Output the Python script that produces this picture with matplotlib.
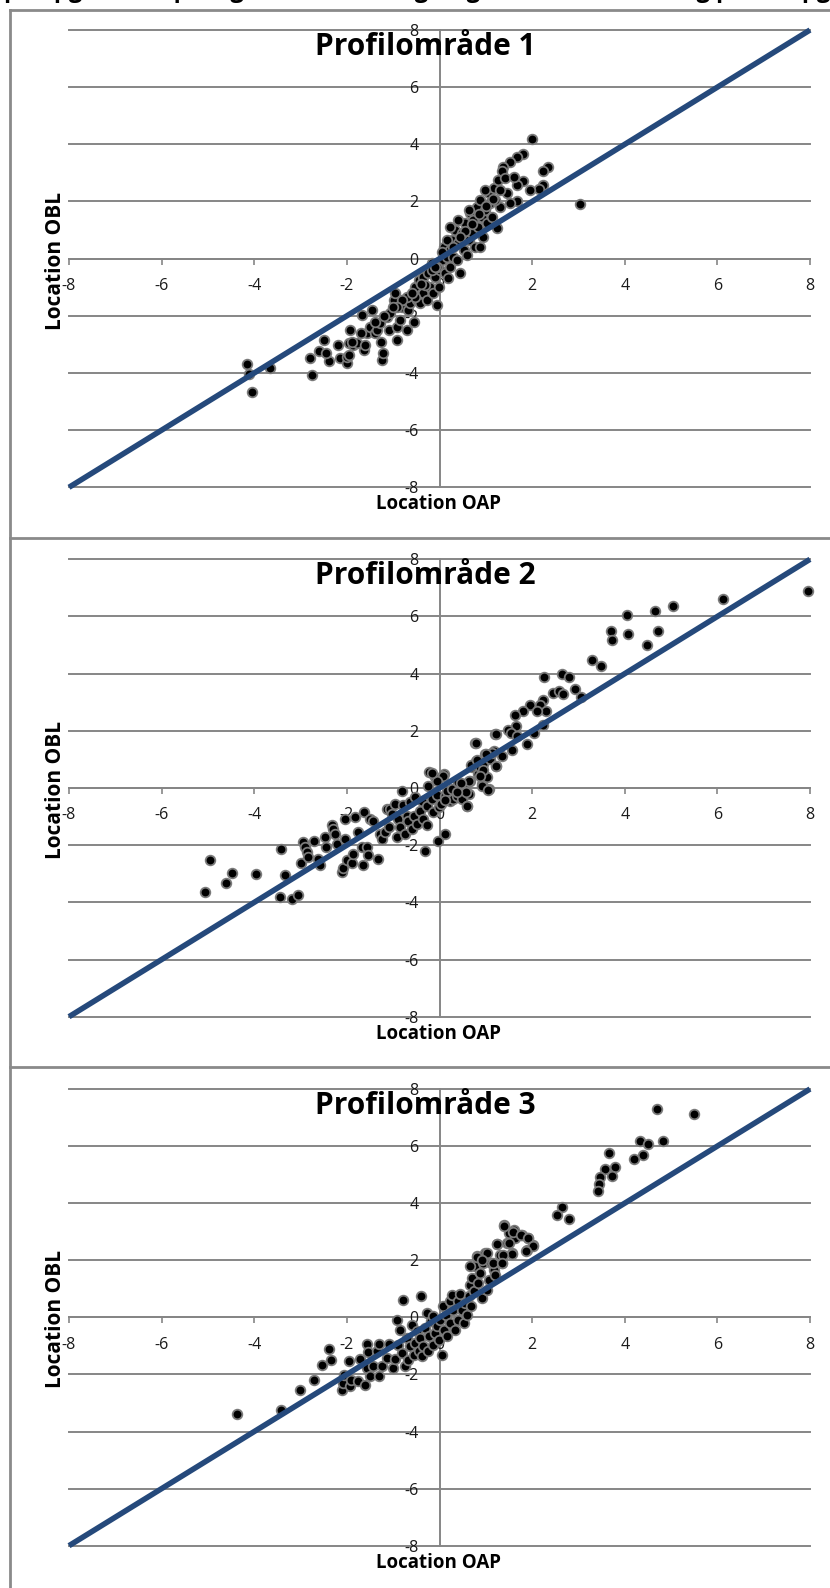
import matplotlib
matplotlib.use("Agg")
import matplotlib.pyplot as plt
from matplotlib.lines import Line2D
import numpy as np

plt.rcParams['font.family'] = ['Open Sans', 'DejaVu Sans']

# ---------------- data ----------------
titles = ["Profilområde 1", "Profilområde 2", "Profilområde 3"]
x_label = "Location OAP"
y_label = "Location OBL"
header_text = "på opgavesæt på, og ved sammenligning (Location (OAP)) og på delopgaveniveau (Location (OBL)) i de tre profilområder"
ticks = [-8, -6, -4, -2, 0, 2, 4, 6, 8]
identity_line = [-8, 8]

panel1_points = [
    (1.99, 4.19), (2.35, 3.19), (2.24, 3.07), (1.81, 3.65), (1.67, 3.57), (1.53, 3.37), (1.38, 3.22),
    (1.35, 3.05), (3.04, 1.91), (2.24, 2.58), (2.14, 2.43), (1.96, 2.40), (1.81, 2.70), (1.67, 2.58),
    (1.67, 2.00), (1.53, 1.94), (1.24, 1.06), (1.31, 1.82),
    (-4.15, -3.70), (-4.12, -4.05), (-4.05, -4.68), (-3.65, -3.84),
    (-2.76, -4.07), (-2.79, -3.47), (-2.61, -3.22), (-2.50, -2.85), (-2.39, -3.58), (-2.45, -3.30),
    (-2.20, -3.02), (-2.14, -3.49), (-2.00, -3.66), (-2.00, -3.43), (-1.96, -3.37), (-1.93, -2.50),
    (-1.96, -2.96), (-1.86, -3.02), (-1.78, -2.96), (-1.68, -1.97), (-1.64, -3.20), (-1.60, -3.02),
    (-1.57, -2.61), (-1.50, -2.38), (-1.46, -1.80), (-1.39, -2.61), (-1.35, -2.50), (-1.28, -2.26),
    (-1.24, -3.55), (-1.21, -3.31), (-1.27, -2.91), (-1.14, -2.03), (-1.10, -2.50), (-1.06, -1.91),
    (-0.99, -1.45), (-0.96, -1.21), (-0.92, -2.85), (-0.92, -2.38), (-0.85, -2.15), (-0.81, -1.68),
    (-0.78, -1.45), (-0.71, -2.50), (-0.67, -1.80), (-0.63, -1.56), (-0.56, -2.21), (-0.53, -0.98),
    (-0.49, -1.45), (-0.45, -0.75), (-0.42, -1.56), (-0.35, -1.21), (-0.35, -0.63), (-0.27, -1.45),
    (-0.24, -0.51), (-0.20, -0.98), (-0.17, -0.16), (-0.13, -1.21), (-0.09, -0.63), (-0.06, -1.62),
    (-0.02, -0.98), (0.01, -0.40), (0.05, -0.05), (0.09, 0.42), (0.12, -0.51), (0.16, 0.07),
    (0.19, -0.69), (0.23, -0.28), (0.23, 0.30), (0.27, 0.65), (0.30, 0.07), (0.34, 1.00),
    (0.37, -0.05), (0.41, 0.54), (0.45, -0.51), (0.48, 0.89), (0.52, 0.30), (0.55, 1.24),
    (0.59, 0.13), (0.63, 0.65), (0.66, 1.59), (0.70, 0.89), (0.73, 1.35), (0.77, 0.42),
    (0.81, 1.82), (0.84, 1.12), (0.88, 0.42), (0.88, 2.05), (0.91, 1.47), (0.95, 0.77),
    (0.99, 1.70), (1.02, 1.24), (1.06, 2.29), (1.09, 1.94), (1.13, 1.47), (1.17, 2.46),
    (1.20, 2.05), (1.27, 2.75), (1.42, 2.81), (1.45, 2.29), (1.60, 2.87), (0.99, 2.40),
    (0.63, 1.70), (0.41, 1.35), (0.23, 1.12), (0.16, 0.65), (0.05, 0.25), (-0.06, -0.28),
    (-0.17, -0.40), (-0.31, -0.92), (-0.53, -1.33), (-0.71, -1.33), (-0.81, -1.45), (-0.92, -1.68),
    (0.55, 0.95), (0.70, 1.20), (0.85, 1.55), (1.00, 1.85), (1.15, 2.10), (1.30, 2.40),
    (0.45, 0.75), (0.30, 0.40), (-0.10, -0.30), (-0.40, -0.90), (-0.60, -1.20), (-1.00, -1.70),
    (-1.20, -2.00), (-1.40, -2.20), (-1.70, -2.60), (-1.90, -2.90),
]

panel2_points = [
    (-5.07, -3.64), (-4.96, -2.53), (-4.60, -3.31), (-4.49, -2.97), (-3.96, -3.00), (-3.43, -2.15),
    (-3.34, -3.06), (-3.45, -3.81), (-3.19, -3.87), (-3.05, -3.73), (-2.98, -2.63), (-2.94, -1.90),
    (-2.90, -2.07), (-2.87, -2.24), (-2.83, -2.42), (-2.72, -1.87), (-2.62, -2.48), (-2.58, -2.71),
    (-2.47, -1.72), (-2.44, -2.07), (-2.33, -1.29), (-2.29, -1.43), (-2.26, -1.60), (-2.22, -1.95),
    (-2.11, -2.94), (-2.08, -2.80), (-2.00, -2.53), (-2.04, -1.08), (-2.04, -1.78), (-1.90, -2.62),
    (-1.86, -2.30), (-1.82, -1.02), (-1.75, -1.55), (-1.68, -2.07), (-1.66, -2.71), (-1.64, -0.83),
    (-1.57, -2.07), (-1.54, -2.36), (-1.50, -1.08), (-1.43, -1.14), (-1.32, -2.50), (-1.28, -1.60),
    (-1.25, -1.78), (-1.17, -1.55), (-1.14, -0.73), (-1.07, -0.73), (-1.10, -1.37), (-1.03, -0.91),
    (-0.96, -0.56), (-0.92, -1.72), (-0.89, -1.08), (-0.85, -1.37), (-0.81, -0.09), (-0.78, -0.59),
    (-0.74, -1.60), (-0.71, -0.97), (-0.67, -1.14), (-0.63, -0.50), (-0.60, -1.43), (-0.56, -0.97),
    (-0.53, -0.33), (-0.49, -1.26), (-0.42, -0.79), (-0.38, -0.44), (-0.35, -1.08), (-0.31, -2.22),
    (-0.27, -0.62), (-0.26, -1.31), (-0.24, 0.08), (-0.22, 0.55), (-0.17, -0.38), (-0.13, -0.85),
    (-0.09, 0.37), (-0.06, -0.24), (-0.04, -1.84), (-0.02, -0.67), (0.03, -0.56), (0.09, 0.49),
    (0.11, -1.60), (0.12, -0.27), (0.16, -0.09), (0.22, -0.44), (0.27, -0.03), (0.30, -0.38),
    (0.37, -0.27), (0.41, 0.20), (0.48, -0.38), (0.52, 0.08), (0.59, -0.62), (0.63, -0.21),
    (0.66, 0.26), (0.70, 0.72), (0.77, 1.59), (0.79, 0.95), (0.84, 0.49), (0.88, 0.72),
    (0.92, 0.14), (0.95, 0.84), (0.99, 1.19), (1.02, 0.37), (1.06, -0.03), (1.10, 1.01),
    (1.17, 1.30), (1.20, 1.88), (1.23, 0.78),
    (7.95, 6.88), (6.12, 6.62), (5.05, 6.35), (4.65, 6.18), (4.71, 5.48), (4.47, 5.01),
    (4.04, 6.04), (4.06, 5.38), (3.70, 5.48), (3.72, 5.19), (3.30, 4.46), (3.48, 4.27),
    (2.26, 3.87), (2.65, 3.99), (2.80, 3.87), (2.93, 3.48), (3.05, 3.18), (2.46, 3.32),
    (2.57, 3.38), (2.67, 3.30), (2.24, 3.09), (2.17, 2.91), (2.30, 2.68), (1.95, 2.91),
    (2.11, 2.68), (1.81, 2.68), (1.63, 2.56), (1.65, 2.16), (1.47, 2.04), (1.54, 1.92),
    (1.21, 1.89), (2.03, 1.92), (2.23, 2.21), (1.88, 1.55), (1.67, 1.81), (0.79, 1.57),
    (1.56, 1.32), (1.34, 1.13), (1.13, 1.22), (1.00, 1.19), (1.22, 0.78), (0.69, 0.82),
    (0.80, 0.97), (0.93, 0.64), (0.91, 0.08), (1.05, -0.08), (0.87, 0.41), (0.64, 0.23),
    (0.46, 0.17), (0.08, 0.43), (-0.06, 0.26), (-0.17, 0.52), (0.60, -0.62), (0.57, -0.15),
    (0.37, -0.15), (0.12, -0.41),
]

panel3_points = [
    (-4.37, -3.38), (-3.43, -3.26), (-3.01, -2.56), (-2.71, -2.18), (-2.54, -1.66), (-2.39, -1.11),
    (-2.34, -1.48), (-2.11, -2.56), (-2.09, -2.30), (-2.06, -2.01), (-1.93, -2.42), (-1.95, -1.54),
    (-1.91, -2.18), (-1.75, -2.24), (-1.72, -1.46), (-1.61, -2.36), (-1.57, -0.92), (-1.57, -1.78),
    (-1.54, -1.23), (-1.50, -2.04), (-1.43, -1.72), (-1.35, -1.19), (-1.30, -2.04), (-1.30, -0.92),
    (-1.25, -1.72), (-1.14, -1.43), (-1.10, -0.92), (-1.01, -1.78), (-0.96, -1.46), (-0.92, -0.08),
    (-0.89, -0.96), (-0.85, -0.43), (-0.81, -1.25), (-0.79, 0.62), (-0.74, -1.72), (-0.71, -0.72),
    (-0.67, -1.48), (-0.63, -1.02), (-0.60, -0.26), (-0.56, -1.31), (-0.53, -0.90), (-0.49, -0.49),
    (-0.45, -1.19), (-0.42, -0.72), (-0.40, 0.76), (-0.38, -1.37), (-0.35, -1.02), (-0.31, -0.37),
    (-0.27, 0.15), (-0.24, -1.19), (-0.22, -0.67), (-0.19, -0.14), (-0.14, -0.96), (-0.13, 0.04),
    (-0.09, -0.55), (-0.06, -0.32), (-0.02, -0.78), (0.01, -0.08), (0.05, -1.31), (0.07, 0.39),
    (0.10, -0.43), (0.14, 0.09), (0.17, -0.67), (0.22, 0.56), (0.23, -0.20), (0.27, 0.79),
    (0.30, 0.27), (0.34, -0.43), (0.39, 0.56), (0.41, -0.08), (0.45, 0.83), (0.48, 0.27),
    (0.52, -0.20), (0.55, 0.50), (0.59, 0.09), (0.63, 0.74), (0.65, 1.14), (0.68, 0.39),
    (0.70, 1.38), (0.74, 0.91), (0.77, 1.79), (0.81, 2.14), (0.84, 1.20), (0.88, 1.55),
    (0.92, 0.68), (0.95, 1.90), (0.99, 2.25), (1.02, 0.97), (1.06, 1.32), (1.11, 1.90),
    (1.17, 1.67), (1.20, 1.50), (1.25, 2.58), (1.30, 2.20), (1.35, 1.90), (1.40, 3.25),
    (1.46, 2.61), (1.49, 2.96), (1.56, 2.25), (1.60, 3.07), (1.64, 2.78), (1.78, 2.90),
    (1.92, 2.78), (1.89, 2.37), (2.02, 2.55),
    (4.70, 7.30), (5.50, 7.11), (4.33, 6.19), (4.51, 6.07), (4.82, 6.19), (3.66, 5.75),
    (4.39, 5.69), (4.19, 5.54), (3.57, 5.21), (3.80, 5.25), (3.73, 4.95), (3.47, 4.91),
    (3.45, 4.66), (3.42, 4.43), (2.65, 3.88), (2.53, 3.59), (2.79, 3.43), (1.40, 3.21),
    (1.59, 3.00), (1.77, 2.89), (1.92, 2.77), (2.01, 2.50), (1.87, 2.34), (1.49, 2.59),
    (1.25, 2.57), (1.56, 2.22), (1.38, 2.18), (1.02, 2.24), (0.80, 2.13), (0.91, 2.01),
    (1.16, 1.89), (1.34, 1.89), (0.66, 1.80),
]

panels = [panel1_points, panel2_points, panel3_points]

# ---------------- style ----------------
W, H = 830, 1588
DPI = 100
GRID = '#868686'
LINE = '#25497b'
fig = plt.figure(figsize=(W / DPI, H / DPI), dpi=DPI)

# axes rectangles in pixels: (top of +8, bottom of -8)
x0_px, x1_px = 69, 810
rows_px = [(30, 487.3), (559.3, 1016.7), (1089, 1545.7)]

def fx(px):
    return px / W

def fy(py):
    return 1 - py / H

# outer frames
border_kw = dict(color='#8a8a8a', lw=2.0, transform=fig.transFigure)
fig.add_artist(Line2D([fx(10), fx(10)], [fy(10), fy(H + 5)], **border_kw))
fig.add_artist(Line2D([fx(10), fx(W + 5)], [fy(10), fy(10)], **border_kw))
for sep in (538.3, 1067.3):
    fig.add_artist(Line2D([fx(10), fx(W + 5)], [fy(sep), fy(sep)], **border_kw))

# header text, cut off at the top edge as in the source image
fig.text(fx(4), fy(-3), header_text, fontsize=17, fontweight='bold', ha='left', va='baseline',
         color='black')

for i, (pts, title) in enumerate(zip(panels, titles)):
    top, bot = rows_px[i]
    ax = fig.add_axes([fx(x0_px), fy(bot), fx(x1_px) - fx(x0_px), fy(top) - fy(bot)])
    ax.set_xlim(-8, 8)
    ax.set_ylim(-8, 8)
    ax.patch.set_alpha(0)

    # horizontal gridlines
    for t in ticks:
        ax.axhline(t, color=GRID, lw=1.4, zorder=1, clip_on=False)

    for side in ('top', 'right'):
        ax.spines[side].set_visible(False)
    ax.spines['left'].set_position(('data', 0))
    ax.spines['bottom'].set_position(('data', 0))
    for side in ('left', 'bottom'):
        ax.spines[side].set_color(GRID)
        ax.spines[side].set_linewidth(1.4)
        ax.spines[side].set_zorder(1)

    ax.set_xticks(ticks)
    ax.set_yticks(ticks)
    ax.set_xticklabels([str(t) for t in ticks])
    ax.set_yticklabels([str(t) for t in ticks])
    ax.tick_params(axis='x', direction='out', length=4, width=1.2, color=GRID, pad=10,
                   labelsize=11.5, labelcolor='#1a1a1a')
    ax.tick_params(axis='y', length=0, pad=15, labelsize=11.5, labelcolor='#1a1a1a')
    for lab in ax.get_xticklabels() + ax.get_yticklabels():
        lab.set_zorder(2)

    xs = [p[0] for p in pts]
    ys = [p[1] for p in pts]
    ax.scatter(xs, ys, s=48, c='black', edgecolors='#7a7a7a', linewidths=1.3, zorder=3,
               clip_on=False)
    ax.plot(identity_line, identity_line, color=LINE, lw=4.0, zorder=4, solid_capstyle='butt',
            clip_on=False)

    # title
    fig.text(fx(425), fy(top + 17), title, fontsize=21.5, fontweight='bold', ha='center',
             va='center', color='black', zorder=5)
    # axis labels
    fig.text(fx(438), fy(bot + 17), x_label, fontsize=13.5, fontweight='bold', ha='center',
             va='center', color='black')
    fig.text(fx(55), fy((top + bot) / 2 + 2), y_label, fontsize=15, fontweight='bold',
             rotation=90, ha='center', va='center', color='black')

fig.savefig('out.png', dpi=DPI)
